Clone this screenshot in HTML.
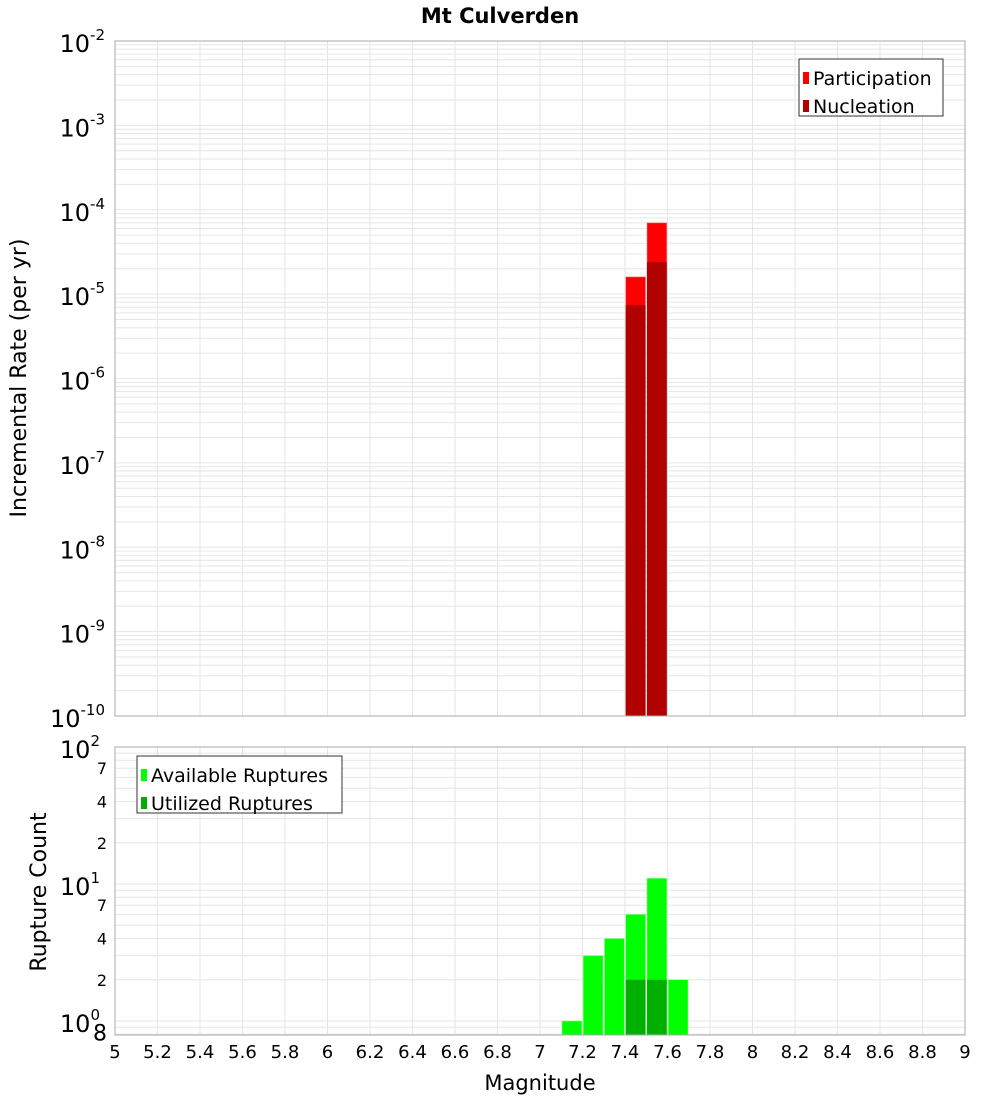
<!DOCTYPE html>
<html><head><meta charset="utf-8"><style>
body{margin:0;background:#fff;}
svg text{font-family:"DejaVu Sans","Liberation Sans",sans-serif;}
</style></head><body>
<svg id="c" width="1000" height="1100" xmlns="http://www.w3.org/2000/svg"></svg>
<script>
const mags = [7.15,7.25,7.35,7.45,7.55,7.65];
const available = [1,3,4,6,11,2];
const utilized = [0,0,0,2,2,0];
const rateMags = [7.45,7.55];
const participation = [1.6e-5,7e-5];
const nucleation = [7.4e-6,2.4e-5];
const xTicks = [5,5.2,5.4,5.6,5.8,6,6.2,6.4,6.6,6.8,7,7.2,7.4,7.6,7.8,8,8.2,8.4,8.6,8.8,9];

const NS='http://www.w3.org/2000/svg';
const svg=document.getElementById('c');
function el(t,a,parent){const e=document.createElementNS(NS,t);for(const k in a)e.setAttribute(k,a[k]);(parent||svg).appendChild(e);return e;}
const X0=115,X1=965;
const x=v=>X0+(v-5)/4*(X1-X0);
// top
const T0=41,T1=716;
const yT=v=>T0+(-2-Math.log10(v))/8*(T1-T0);
// bottom
const B0=747,B1=1035;
const yB=v=>884-(Math.log10(v)-1)*137;

function grid(top,bot,yf,dmin,dmax,lo){
  for(let d=dmin;d<dmax;d++)for(let m=1;m<10;m++){const v=m*Math.pow(10,d);if(v<lo)continue;const yy=yf(v);if(yy<top-0.5||yy>bot)continue;
    const g=el('line',{x1:X0,x2:X1,y1:yy,y2:yy,stroke:'#e6e6e6','stroke-width':1});
    }
  xTicks.forEach(t=>{const g=el('line',{x1:x(t),x2:x(t),y1:top,y2:bot,stroke:'#e6e6e6','stroke-width':1});
    });
}
grid(T0,T1,yT,-10,-2,1e-10);
grid(B0,B1,yB,-1,2,0.8);

const bw=(x(0.1)-x(0))-1.5;
rateMags.forEach((m,i)=>{
  const r=el('rect',{x:x(m)-bw/2,y:yT(participation[i]),width:bw,height:T1-yT(participation[i]),fill:'#ff0000',stroke:'#ff8080','stroke-width':0.6});
  
  const n=el('rect',{x:x(m)-bw/2,y:yT(nucleation[i]),width:bw,height:T1-yT(nucleation[i]),fill:'#b00000'});
  
});
mags.forEach((m,i)=>{
  const r=el('rect',{x:x(m)-bw/2,y:yB(available[i]),width:bw,height:B1-yB(available[i]),fill:'#00ff00',stroke:'#80ff80','stroke-width':0.6});
  
  if(utilized[i]>0){const u=el('rect',{x:x(m)-bw/2,y:yB(utilized[i]),width:bw,height:B1-yB(utilized[i]),fill:'#00b000'});
  }
});
// frames
let f=el('rect',{x:X0,y:T0,width:X1-X0,height:T1-T0,fill:'none',stroke:'#aaa'});

f=el('rect',{x:X0,y:B0,width:X1-X0,height:B1-B0,fill:'none',stroke:'#aaa'});


// top y labels
for(let d=-10;d<=-2;d++){const yy=yT(Math.pow(10,d));
  const t=el('text',{x:105,y:yy+11,'text-anchor':'end','font-size':24});
  
  t.innerHTML='10<tspan dy="-12" font-size="15">'+d+'</tspan>';}
// bottom y labels
[[100,'2'],[10,'1'],[1,'0']].forEach(([v,e])=>{const yy=yB(v);
  const t=el('text',{x:100,y:yy+11,'text-anchor':'end','font-size':24});
  
  t.innerHTML='10<tspan dy="-12" font-size="15">'+e+'</tspan>';});
[[70,'7'],[40,'4'],[20,'2'],[7,'7'],[4,'4'],[2,'2'],[0.8,'8']].forEach(([v,s])=>{
  const t=el('text',{x:107,y:yB(v)+6,'text-anchor':'end','font-size':v==0.8?22:16});
  t.textContent=s;});
// x labels
xTicks.forEach(v=>{const t=el('text',{x:x(v),y:1058,'text-anchor':'middle','font-size':18});
  t.textContent=String(v);});
// titles
let t=el('text',{x:500,y:23,'text-anchor':'middle','font-size':21,'font-weight':'bold'});t.textContent='Mt Culverden';

t=el('text',{x:540,y:1090,'text-anchor':'middle','font-size':21});t.textContent='Magnitude';

t=el('text',{x:0,y:0,'text-anchor':'middle','font-size':22,transform:'translate(26,378) rotate(-90)'});t.textContent='Incremental Rate (per yr)';

t=el('text',{x:0,y:0,'text-anchor':'middle','font-size':22,transform:'translate(46,892) rotate(-90)'});t.textContent='Rupture Count';


function legend(x0,y0,w,items,name){
  const g=el('g',{});
  el('rect',{x:x0,y:y0,width:w,height:57,fill:'#fff',stroke:'#333'},g);
  items.forEach(([c,s],i)=>{const yy=y0+19+i*28;
    el('rect',{x:x0+4,y:yy-6,width:6,height:12,fill:c},g);
    const tt=el('text',{x:x0+14,y:yy+7,'font-size':19},g);tt.textContent=s;});
}
legend(799,59,144,[['#ff0000','Participation'],['#b00000','Nucleation']],'legend-top');
legend(137,756,205,[['#00ff00','Available Ruptures'],['#00b000','Utilized Ruptures']],'legend-bottom');
</script>
</body></html>
